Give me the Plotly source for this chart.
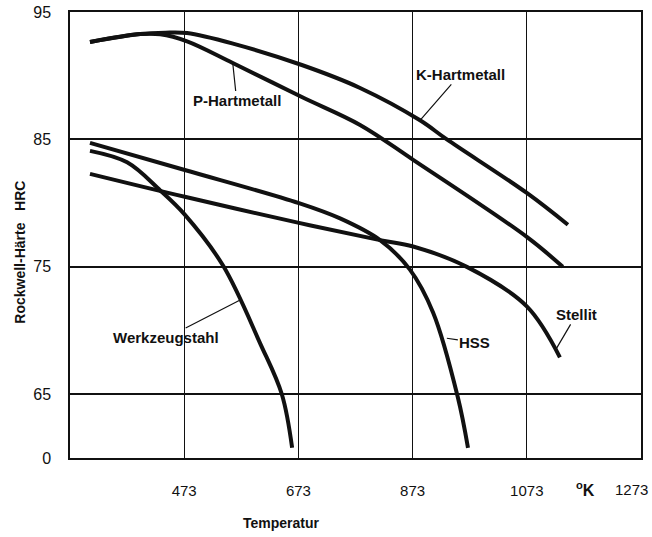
import plotly.graph_objects as go

# Temperature [K] / Rockwell hardness [HRC]
k_T = [308, 396, 440, 478, 560, 679, 781, 886, 933, 1073, 1145]
k_H = [92.65, 93.27, 93.38, 93.35, 92.5, 90.84, 89.04, 86.5, 85.0, 80.8, 78.3]

p_T = [308, 396, 431, 478, 558, 679, 781, 874, 1073, 1136]
p_H = [92.65, 93.27, 93.25, 92.7, 91.0, 88.33, 86.14, 83.4, 77.35, 75.0]

hss_T = [308, 474, 674, 746, 816, 868, 909, 952, 970]
hss_H = [84.73, 82.6, 80.0, 78.8, 77.1, 74.8, 71.4, 64.8, 60.8]

stellit_T = [308, 474, 674, 816, 874, 968, 1073, 1131]
stellit_H = [82.3, 80.5, 78.45, 77.1, 76.6, 75.0, 71.9, 67.9]

wz_T = [308, 373, 431, 474, 541, 606, 644, 662]
wz_H = [84.1, 83.2, 81.0, 79.1, 75.1, 69.0, 65.0, 60.8]

x_ticks = [473, 673, 873, 1073, 1273]
x_ticktext = ["473", "673", "873", "1073", ""]
x_last_label = "1273"
y_ticks = [60, 65, 75, 85, 95]
y_ticktext = ["0", "65", "75", "85", "95"]

FONT = "Liberation Sans, Arial, sans-serif"
INK = "#111111"

fig = go.Figure()
for name, T, H in [("K-Hartmetall", k_T, k_H), ("P-Hartmetall", p_T, p_H),
                   ("HSS", hss_T, hss_H), ("Stellit", stellit_T, stellit_H),
                   ("Werkzeugstahl", wz_T, wz_H)]:
    fig.add_trace(go.Scatter(x=T, y=H, mode="lines", name=name,
                             line=dict(color=INK, width=4, shape="spline", smoothing=1.0),
                             showlegend=False, hoverinfo="skip"))

labels = [
    # text, tip x, tip y, text offset ax, ay (px)
    ("P-Hartmetall", 558, 91.0, 4, 38),
    ("K-Hartmetall", 886, 86.5, 40, -46),
    ("Werkzeugstahl", 571, 72.4, -74, 38),
    ("HSS", 933, 69.4, 28, 4),
    ("Stellit", 1125, 68.6, 20, -34),
]
for text, x, y, ax, ay in labels:
    fig.add_annotation(x=x, y=y, text=f"<b>{text}</b>", showarrow=True, arrowhead=0,
                       arrowwidth=1.2, arrowcolor=INK, ax=ax, ay=ay,
                       font=dict(family=FONT, size=15, color=INK), bgcolor="rgba(0,0,0,0)")

fig.add_annotation(x=1273, y=-0.07, xref="x", yref="paper", text=x_last_label,
                   xanchor="right", xshift=9,
                   showarrow=False, font=dict(family=FONT, size=15, color=INK), yanchor="middle")
fig.add_annotation(x=1175, y=-0.07, xref="x", yref="paper", text="<b><sup>o</sup>K</b>",
                   showarrow=False, font=dict(family=FONT, size=16, color=INK), yanchor="middle")
fig.add_annotation(x=0.37, y=-0.145, xref="paper", yref="paper", text="<b>Temperatur</b>",
                   showarrow=False, font=dict(family=FONT, size=14, color=INK), yanchor="middle")
fig.add_annotation(x=-0.088, y=0.462, xref="paper", yref="paper", text="<b>Rockwell-Härte   HRC</b>",
                   textangle=-90, showarrow=False, xanchor="center", yanchor="middle",
                   font=dict(family=FONT, size=14, color=INK))

fig.update_layout(
    width=652, height=537,
    margin=dict(l=70, r=11, t=12, b=79),
    paper_bgcolor="white", plot_bgcolor="white",
    xaxis=dict(range=[273, 1273], tickvals=x_ticks, ticktext=x_ticktext,
               showgrid=True, gridcolor=INK, gridwidth=1, automargin=False,
               showline=True, linecolor=INK, linewidth=2, mirror=True,
               ticks="", ticklabelstandoff=18, zeroline=False,
               tickfont=dict(family=FONT, size=15, color=INK)),
    yaxis=dict(range=[60, 95], tickvals=y_ticks, ticktext=y_ticktext,
               showgrid=True, gridcolor=INK, gridwidth=2, automargin=False,
               showline=True, linecolor=INK, linewidth=1.5, mirror=True,
               ticks="", ticklabelstandoff=14, zeroline=False,
               tickfont=dict(family=FONT, size=16, color=INK)),
)

fig.write_html("out.html")
